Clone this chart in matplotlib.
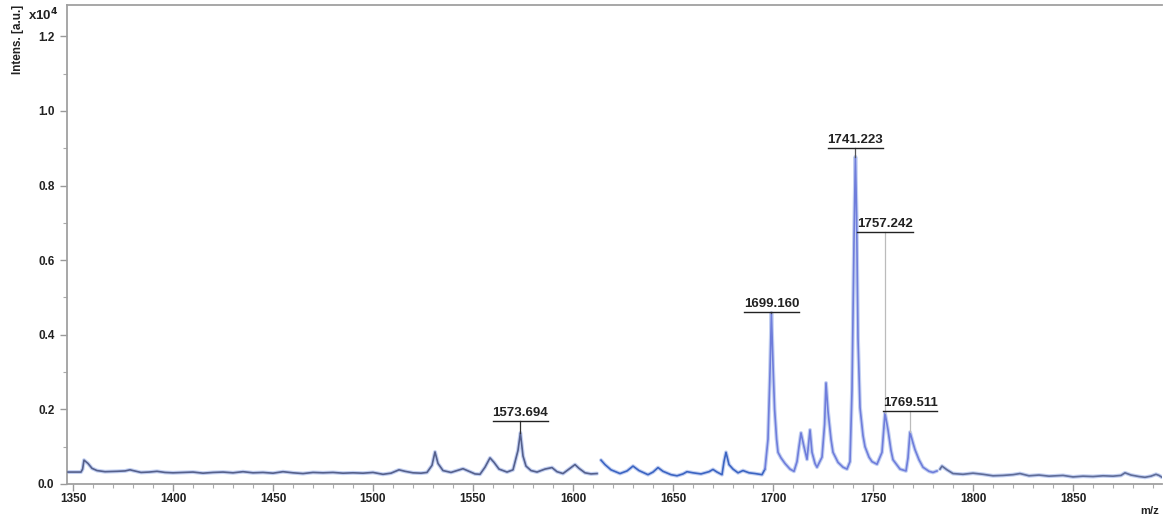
import matplotlib
matplotlib.use("Agg")
import matplotlib.pyplot as plt
from matplotlib.ticker import MultipleLocator, FormatStrFormatter

plt.rcParams['font.family'] = ['Liberation Sans', 'DejaVu Sans']

# ---------------- data (intensity in units of 1e4 a.u.) ----------------
mz_a = [1347.5, 1354.0, 1354.8, 1355.5, 1357.5, 1359.5, 1362, 1366, 1372, 1376, 1378.5, 1380,
        1384, 1388, 1392, 1396, 1400, 1405, 1410, 1415, 1420, 1425, 1430, 1435, 1440, 1445,
        1450, 1455, 1460, 1465, 1470, 1475, 1480, 1485, 1490, 1495, 1500, 1505, 1509, 1513,
        1516, 1520, 1524, 1527, 1529.5, 1531, 1532.5, 1535, 1539, 1542, 1545, 1548, 1551,
        1553.5, 1556, 1558.5, 1560.5, 1563, 1567, 1570, 1572.5, 1573.7, 1575, 1576.5, 1579,
        1582, 1586, 1589.5, 1592, 1595, 1598, 1601, 1603, 1606, 1609, 1612]
int_a = [0.032, 0.032, 0.040, 0.064, 0.055, 0.042, 0.036, 0.033, 0.034, 0.035, 0.038, 0.036,
         0.031, 0.032, 0.034, 0.031, 0.030, 0.031, 0.032, 0.029, 0.031, 0.032, 0.030, 0.033, 0.030, 0.031,
         0.029, 0.033, 0.030, 0.028, 0.031, 0.030, 0.031, 0.029, 0.030, 0.029, 0.031, 0.026, 0.029, 0.038,
         0.034, 0.030, 0.029, 0.031, 0.050, 0.086, 0.055, 0.036, 0.031, 0.036, 0.041, 0.034, 0.027,
         0.026, 0.045, 0.070, 0.058, 0.040, 0.032, 0.038, 0.090, 0.137, 0.075, 0.048, 0.036,
         0.032, 0.040, 0.044, 0.033, 0.028, 0.040, 0.052, 0.042, 0.030, 0.027, 0.028]

mz_b = [1614, 1616, 1619, 1623.5, 1627, 1630, 1633, 1637.5, 1640, 1642.5, 1645, 1649, 1652,
        1655, 1657, 1660, 1664, 1668, 1670, 1672, 1674.5, 1675.5, 1676.5, 1678, 1680, 1682.5,
        1685, 1688, 1691, 1694.5, 1696]
int_b = [0.064, 0.052, 0.038, 0.028, 0.035, 0.048, 0.036, 0.025, 0.032, 0.044, 0.034, 0.025, 0.022,
         0.027, 0.033, 0.030, 0.027, 0.033, 0.039, 0.032, 0.025, 0.060, 0.085, 0.052, 0.040, 0.030,
         0.036, 0.030, 0.028, 0.025, 0.040]

mz_c = [1696, 1697.5, 1698.5, 1699.2, 1700, 1700.8, 1701.8, 1702.5, 1704, 1706, 1708.5, 1710.5,
        1712, 1713, 1714, 1715.5, 1717, 1718.5, 1719.5, 1721, 1722, 1724.5, 1725.8, 1726.5,
        1727.5, 1729, 1730, 1732.5, 1735, 1737, 1738.5, 1739.5, 1740.5, 1741.2, 1741.8, 1742.5,
        1743.5, 1745, 1746, 1748, 1749.5, 1752, 1754.5, 1756, 1757.5, 1759, 1760, 1763.5,
        1766.5, 1767.5, 1768.5, 1770, 1771, 1773, 1775, 1778, 1780, 1782]
int_c = [0.040, 0.120, 0.300, 0.458, 0.320, 0.200, 0.120, 0.085, 0.070, 0.055, 0.040, 0.034,
         0.060, 0.100, 0.137, 0.100, 0.066, 0.145, 0.085, 0.055, 0.045, 0.072, 0.160, 0.271,
         0.195, 0.120, 0.085, 0.058, 0.045, 0.040, 0.060, 0.250, 0.650, 0.877, 0.720, 0.390,
         0.205, 0.130, 0.100, 0.072, 0.060, 0.053, 0.085, 0.190, 0.145, 0.090, 0.065, 0.040,
         0.035, 0.070, 0.139, 0.110, 0.092, 0.065, 0.045, 0.034, 0.031, 0.035]

mz_d = [1783.5, 1784.5, 1787, 1790, 1795, 1800, 1805, 1810, 1815, 1820, 1823.5, 1828, 1833,
        1838, 1845, 1850, 1855, 1860, 1865, 1870, 1874, 1876, 1879, 1883, 1886, 1889, 1891.5,
        1893, 1894.5]
int_d = [0.040, 0.048, 0.038, 0.028, 0.026, 0.029, 0.026, 0.022, 0.023, 0.025, 0.028, 0.022, 0.024,
         0.021, 0.023, 0.019, 0.021, 0.020, 0.022, 0.021, 0.023, 0.030, 0.024, 0.020, 0.018, 0.021, 0.026,
         0.023, 0.018]

peak_mz = [1573.7, 1699.2, 1741.2, 1756.0, 1768.5]
peak_int = [0.137, 0.458, 0.877, 0.190, 0.139]
peak_labels = ["1573.694", "1699.160", "1741.223", "1757.242", "1769.511"]

x_ticks = [1350, 1400, 1450, 1500, 1550, 1600, 1650, 1700, 1750, 1800, 1850]
y_ticks = [0.0, 0.2, 0.4, 0.6, 0.8, 1.0, 1.2]

# ---------------- figure ----------------
fig = plt.figure(figsize=(11.68, 5.21), dpi=100)
ax = fig.add_axes([67 / 1168, 37 / 521, (1162 - 67) / 1168, (484 - 5) / 521])

segments = [(mz_a, int_a, '#55608c'), (mz_b, int_b, '#3b64c2'),
            (mz_c, int_c, '#6f7ddb'), (mz_d, int_d, '#5f6c98')]
for xs, ys, col in segments:
    ax.plot(xs, ys, color='#c3d0f2', lw=2.8, solid_capstyle='round', zorder=2)
    ax.plot(xs, ys, color=col, lw=1.2, zorder=3)

ax.set_xlim(1347, 1894.5)
ax.set_ylim(0, 1.284)

ax.set_xticks(x_ticks)
ax.set_yticks(y_ticks)
ax.xaxis.set_minor_locator(MultipleLocator(10))
ax.yaxis.set_minor_locator(MultipleLocator(0.1))
ax.yaxis.set_major_formatter(FormatStrFormatter('%.1f'))
ax.tick_params(axis='both', which='major', length=5, width=1, color='#999999',
               labelsize=8.5, labelcolor='#222222')
ax.tick_params(axis='both', which='minor', length=3, width=0.8, color='#aaaaaa')
ax.tick_params(axis='x', pad=1.5)
ax.tick_params(axis='y', pad=4)
for lab in ax.get_xticklabels() + ax.get_yticklabels():
    lab.set_fontweight('bold')

for side in ['left', 'top', 'bottom']:
    ax.spines[side].set_color('#a0a0a0')
    ax.spines[side].set_linewidth(1.3)
ax.spines['right'].set_visible(False)

# axis texts
fig.text(18 / 1168, 1 - 5 / 521, 'Intens. [a.u.]', rotation=90, ha='center', va='top',
         fontsize=8.5, fontweight='bold', color='#222222')
fig.text(28 / 1168, 1 - 15 / 521, r'x10$^{\mathbf{4}}$', ha='left', va='center',
         fontsize=9.5, fontweight='bold', color='#222222')
fig.text(1150 / 1168, 1 - 511 / 521, 'm/z', ha='center', va='center',
         fontsize=8, fontweight='bold', color='#222222')

# peak labels with underline and leader lines
label_heights = [0.169, 0.461, 0.900, 0.676, 0.196]
leader_colors = ['#333333', '#555555', '#555555', '#bbbbbb', '#bbbbbb']
texts = []
for mz, lh, txt in zip(peak_mz, label_heights, peak_labels):
    t = ax.text(mz, lh + 0.006, txt, ha='center', va='bottom', fontsize=9.5,
                fontweight='bold', color='#222222', zorder=5)
    texts.append(t)

fig.canvas.draw()
renderer = fig.canvas.get_renderer()
inv = ax.transData.inverted()
for t, mz, pk, lh, lc in zip(texts, peak_mz, peak_int, label_heights, leader_colors):
    bb = t.get_window_extent(renderer)
    (x0, _), (x1, _) = inv.transform([(bb.x0, bb.y0), (bb.x1, bb.y0)])
    ax.plot([x0, x1], [lh, lh], color='#222222', lw=1.0, zorder=5)
    ax.plot([mz, mz], [lh, pk], color=lc, lw=0.9, zorder=4)

fig.savefig('out.png', dpi=100)
